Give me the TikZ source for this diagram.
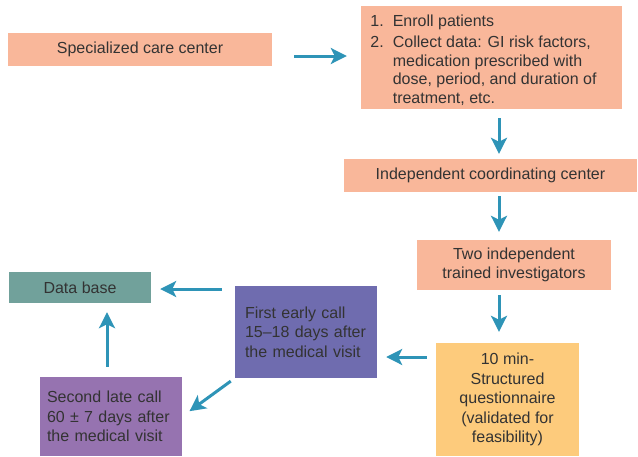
\documentclass[tikz,border=0pt]{standalone}
\usepackage{fontspec}
\setmainfont{Liberation Sans}
\usetikzlibrary{arrows.meta}

\definecolor{boxsalmon}{HTML}{F9B79A}
\definecolor{boxpeach}{HTML}{FDCB7C}
\definecolor{boxblue}{HTML}{6F6CAF}
\definecolor{boxpurple}{HTML}{9673B0}
\definecolor{boxteal}{HTML}{71A19B}
\definecolor{arrowblue}{HTML}{2E94B7}

\begin{document}
\begin{tikzpicture}[x=1pt,y=-1pt,
  box/.style={fill=#1,inner sep=0pt,text=black!80,font=\fontsize{16}{19.5}\selectfont},
  arr/.style={draw=arrowblue,line width=3pt,-{Stealth[length=16pt,width=16pt,inset=4pt]}}]
  \useasboundingbox (0,0) rectangle (638,456);

  \node[box=boxsalmon, minimum width=264pt, minimum height=33pt] (spec)   at (140,49.5)  {Specialized care center};
  \node[box=boxsalmon, minimum width=261pt, minimum height=103pt] (enroll) at (491.5,57.5)
    {\renewcommand\arraystretch{0.95}%
     \begin{tabular}{@{}l@{\hspace{9pt}}l@{\hspace{16pt}}}
       \rule{0pt}{20pt}1. & Enroll patients\\[3pt]
       2. & Collect data: GI risk factors,\\
          & medication prescribed with\\
          & dose, period, and duration of\\
          & treatment, etc.
     \end{tabular}};
  \node[box=boxsalmon, minimum width=293pt, minimum height=33pt] (coord)  at (490.5,175.5) {Independent coordinating center};
  \node[box=boxsalmon, minimum width=194pt, minimum height=50pt, align=center] (invest) at (514,265)
    {Two independent\\trained investigators};
  \node[box=boxpeach, minimum width=143pt, minimum height=113pt, align=center] (quest)  at (507.5,399.5)
    {10 min-\\Structured\\questionnaire\\(validated for\\feasibility)};
  \node[box=boxblue, inner xsep=10pt, text width=122pt, minimum height=92pt, align=left] (early) at (306,332)
    {First early call\\15--18 days after\\the medical visit};
  \node[box=boxteal, minimum width=142pt, minimum height=31pt] (db) at (80,287.5) {Data base};
  \node[box=boxpurple, inner xsep=7pt, text width=128pt, minimum height=79pt, align=left] (late) at (111,416.5)
    {Second late call\\60 ± 7 days after\\the medical visit};

  % top row and the column on the right
  \draw[arr, shorten <=22pt, shorten >=14pt] ([yshift=-6.5pt]spec.east) -- ([yshift=-6.5pt]spec.east -| enroll.west);
  \draw[arr, shorten <=9pt, shorten >=5pt]   ([xshift=7.5pt]enroll.south) -- ([xshift=7.5pt]enroll.south |- coord.north);
  \draw[arr, shorten <=4pt, shorten >=8pt]   ([xshift=8.5pt]coord.south) -- ([xshift=8.5pt]coord.south |- invest.north);
  \draw[arr, shorten <=5pt, shorten >=11pt]  ([xshift=-15pt]invest.south) -- ([xshift=-15pt]invest.south |- quest.north);

  % calls and data base
  \draw[arr, shorten <=9pt, shorten >=9pt]   ([yshift=42.5pt]quest.west) -- ([yshift=42.5pt]quest.west -| early.east);
  \draw[arr, shorten <=13pt, shorten >=9pt]  ([yshift=-1.5pt]db.east -| early.west) -- ([yshift=-1.5pt]db.east);
  \draw[arr, shorten <=5pt, shorten >=9pt]   (early.south west) -- (late.east);
  \draw[arr, shorten <=10pt, shorten >=9pt]  ([xshift=-4pt]late.north) -- ([xshift=-4pt]late.north |- db.south);
\end{tikzpicture}
\end{document}
